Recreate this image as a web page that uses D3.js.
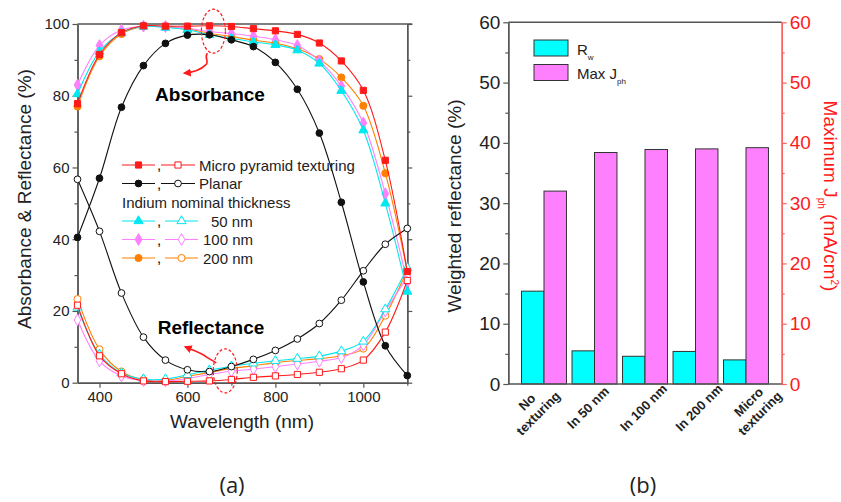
<!DOCTYPE html>
<html>
<head>
<meta charset="utf-8">
<script src="https://cdn.jsdelivr.net/npm/d3@7"></script>
<style>
body { margin: 0; background: #fff; }
text { font-family: Arial, "Liberation Sans", sans-serif; }
</style>
</head>
<body>
<div id="chart"></div>
<script>
// (a) spectra, every 50 nm
var wavelength = [350, 400, 450, 500, 550, 600, 650, 700, 750, 800, 850, 900, 950, 1000, 1050, 1100];
var absMicro  = [77.8, 91.5, 97.6, 99.5, 99.4, 99.4, 99.5, 99.3, 98.7, 98.1, 97.1, 94.7, 89.7, 81.5, 62.0, 31.0];
var refMicro  = [21.6, 7.5, 2.5, 0.5, 0.3, 0.4, 0.5, 0.9, 1.5, 1.9, 2.3, 2.9, 3.9, 6.3, 14.1, 28.5];
var absPlanar = [40.5, 57.0, 76.8, 88.4, 94.6, 96.9, 97.0, 95.6, 93.7, 89.3, 81.8, 69.6, 50.3, 28.1, 10.3, 2.0];
var refPlanar = [56.7, 42.2, 25.0, 12.7, 6.3, 3.6, 3.1, 4.5, 6.5, 9.0, 12.2, 16.5, 23.0, 31.2, 38.6, 43.0];
var abs50  = [80.5, 92.3, 97.5, 99.3, 99.0, 98.4, 97.0, 96.0, 95.0, 94.2, 92.7, 89.0, 81.4, 70.4, 50.0, 25.4];
var ref50  = [21.0, 7.9, 2.7, 1.0, 1.0, 2.2, 3.5, 4.6, 5.4, 6.1, 6.7, 7.4, 8.8, 11.5, 20.5, 32.0];
var abs100 = [83.0, 94.0, 98.3, 99.4, 99.3, 98.8, 97.9, 97.3, 96.6, 95.6, 94.0, 89.7, 82.7, 72.4, 52.7, 28.0];
var ref100 = [17.5, 6.1, 1.9, 0.6, 0.5, 1.2, 2.3, 3.2, 3.8, 4.5, 5.2, 6.0, 7.0, 10.5, 20.0, 29.5];
var abs200 = [77.0, 91.0, 97.2, 99.3, 99.2, 98.7, 97.4, 96.5, 95.5, 94.6, 93.1, 90.2, 85.1, 77.2, 58.4, 31.0];
var ref200 = [23.3, 9.3, 3.1, 0.8, 0.6, 1.8, 2.8, 4.0, 4.7, 5.6, 6.2, 6.7, 7.5, 9.5, 18.7, 31.5];
var seriesNames = ["Micro pyramid texturing", "Planar", "50 nm", "100 nm", "200 nm"];
var xTicksA = [400, 600, 800, 1000];
var xMinorA = [500, 700, 900, 1100];
var yTicksA = [0, 20, 40, 60, 80, 100];
var yMinorA = [10, 30, 50, 70, 90];

// (b) bars
var categories = ["No|texturing", "In 50 nm", "In 100 nm", "In 200 nm", "Micro|texturing"];
var weightedRefl = [15.4, 5.5, 4.6, 5.4, 4.0];
var maxJph = [32.0, 38.4, 38.9, 39.0, 39.2];
var yTicksB = [0, 10, 20, 30, 40, 50, 60];
var yMinorB = [5, 15, 25, 35, 45, 55];

var width = 841, height = 502;
var axisColor = "#555";

var series = [
    {name: seriesNames[0], color: "#ff1a1a", symbol: d3.symbolSquare, size: 38, abs: absMicro, ref: refMicro},
    {name: seriesNames[1], color: "#111111", symbol: d3.symbolCircle, size: 36, abs: absPlanar, ref: refPlanar},
    {name: seriesNames[2], color: "#00e8f0", symbol: d3.symbolTriangle, size: 36, abs: abs50, ref: ref50},
    {name: seriesNames[3], color: "#ff80ff", symbol: d3.symbolDiamond, size: 40, abs: abs100, ref: ref100},
    {name: seriesNames[4], color: "#ff8000", symbol: d3.symbolCircle, size: 40, abs: abs200, ref: ref200}
];

var svg = d3.select("#chart").append("svg")
    .attr("width", width)
    .attr("height", height);

// ---------- panel (a) ----------
var xA = d3.scaleLinear().domain([350, 1100]).range([77.5, 407.3]);
var yA = d3.scaleLinear().domain([0, 100]).range([382.7, 24]);

var gA = svg.append("g");

function styleAxis(sel, color) {
    sel.select(".domain").attr("stroke", color).attr("stroke-width", 1.4);
    sel.selectAll(".tick line").attr("stroke", color).attr("stroke-width", 1.2);
}

var axL = gA.append("g").attr("transform", "translate(" + xA.range()[0] + ",0)")
    .call(d3.axisLeft(yA).tickValues(yTicksA).tickSize(5).tickPadding(3).tickSizeOuter(0));
axL.selectAll("text").style("font-size", "15px").attr("fill", "#222");
styleAxis(axL, axisColor);
var axLm = gA.append("g").attr("transform", "translate(" + xA.range()[0] + ",0)")
    .call(d3.axisLeft(yA).tickValues(yMinorA).tickSize(3).tickFormat("").tickSizeOuter(0));
styleAxis(axLm, axisColor);

var axR = gA.append("g").attr("transform", "translate(" + xA.range()[1] + ",0)")
    .call(d3.axisRight(yA).tickValues(yTicksA).tickSize(5).tickFormat("").tickSizeOuter(0));
styleAxis(axR, axisColor);
var axRm = gA.append("g").attr("transform", "translate(" + xA.range()[1] + ",0)")
    .call(d3.axisRight(yA).tickValues(yMinorA).tickSize(3).tickFormat("").tickSizeOuter(0));
styleAxis(axRm, axisColor);

var axB = gA.append("g").attr("transform", "translate(0," + yA.range()[0] + ")")
    .call(d3.axisBottom(xA).tickValues(xTicksA).tickFormat(d3.format("d")).tickSize(5).tickPadding(4).tickSizeOuter(0));
axB.selectAll("text").style("font-size", "15px").attr("fill", "#222");
styleAxis(axB, axisColor);
var axBm = gA.append("g").attr("transform", "translate(0," + yA.range()[0] + ")")
    .call(d3.axisBottom(xA).tickValues(xMinorA).tickSize(3).tickFormat("").tickSizeOuter(0));
styleAxis(axBm, axisColor);

gA.append("line")
    .attr("x1", xA.range()[0]).attr("x2", xA.range()[1] + 5)
    .attr("y1", yA.range()[1]).attr("y2", yA.range()[1])
    .attr("stroke", axisColor).attr("stroke-width", 1.4);

var line = d3.line()
    .x(function (d) { return xA(d[0]); })
    .y(function (d) { return yA(d[1]); })
    .curve(d3.curveCatmullRom.alpha(0.5));

var plotA = gA.append("g");
series.slice().reverse().forEach(function (s) {
    ["ref", "abs"].forEach(function (kind) {
        var pts = wavelength.map(function (w, i) { return [w, s[kind][i]]; });
        plotA.append("path")
            .attr("d", line(pts))
            .attr("fill", "none")
            .attr("stroke", s.color)
            .attr("stroke-width", 1.1);
        plotA.selectAll(null)
            .data(pts).enter()
            .append("path")
            .attr("transform", function (d) { return "translate(" + xA(d[0]) + "," + yA(d[1]) + ")"; })
            .attr("d", d3.symbol().type(s.symbol).size(s.size))
            .attr("fill", kind == "abs" ? s.color : "#fff")
            .attr("stroke", s.color)
            .attr("stroke-width", 1);
    });
});

// annotations
gA.append("text").attr("x", 210).attr("y", 101)
    .attr("text-anchor", "middle")
    .style("font-size", "19px").style("font-weight", "bold")
    .text("Absorbance");
gA.append("text").attr("x", 211).attr("y", 334)
    .attr("text-anchor", "middle")
    .style("font-size", "19px").style("font-weight", "bold")
    .text("Reflectance");

svg.append("defs").append("marker")
    .attr("id", "arrowRed")
    .attr("viewBox", "0 0 10 10")
    .attr("refX", 8).attr("refY", 5)
    .attr("markerWidth", 5).attr("markerHeight", 5)
    .attr("orient", "auto")
    .append("path").attr("d", "M0,0L10,5L0,10z").attr("fill", "#ff1a1a");

function ellipseNote(w, v, arrowPath) {
    var cx = xA(w), cy = yA(v);
    gA.append("ellipse")
        .attr("cx", cx).attr("cy", cy)
        .attr("rx", 12).attr("ry", 22)
        .attr("fill", "none")
        .attr("stroke", "#ff1a1a")
        .attr("stroke-width", 1.2)
        .attr("stroke-dasharray", "3,2");
    gA.append("path")
        .attr("transform", "translate(" + cx + "," + cy + ")")
        .attr("d", arrowPath)
        .attr("fill", "none")
        .attr("stroke", "#ff1a1a")
        .attr("stroke-width", 1.6)
        .attr("marker-end", "url(#arrowRed)");
}
ellipseNote(659, 98, "M-6,22 C-10,27 -3,30 -8,34 C-12,38 -18,41 -29,42");
ellipseNote(686, 3.3, "M-9,-8 C-12,-10 -16,-12 -19,-14 C-22,-17 -30,-20 -40,-24");

// legend (a)
var legA = gA.append("g").attr("transform", "translate(122,165)");
var legRows = [
    {s: series[0], y: 0, x2a: 39, x2b: 73, tx: 77, label: "Micro pyramid texturing"},
    {s: series[1], y: 18.5, x2a: 39, x2b: 73, tx: 77, label: "Planar"},
    {s: series[2], y: 56, x2a: 43, x2b: 76, tx: 89, label: "50 nm"},
    {s: series[3], y: 74.5, x2a: 43, x2b: 76, tx: 81, label: "100 nm"},
    {s: series[4], y: 93, x2a: 43, x2b: 76, tx: 81, label: "200 nm"}
];
legRows.forEach(function (r) {
    var g = legA.append("g").attr("transform", "translate(0," + r.y + ")");
    g.append("line").attr("x1", 0).attr("x2", 33).attr("y1", 0).attr("y2", 0)
        .attr("stroke", r.s.color).attr("stroke-width", 1.1);
    g.append("path").attr("transform", "translate(16.5,0)")
        .attr("d", d3.symbol().type(r.s.symbol).size(r.s.size))
        .attr("fill", r.s.color).attr("stroke", r.s.color);
    g.append("text").attr("x", 35).attr("y", 5).style("font-size", "15px").text(",");
    g.append("line").attr("x1", r.x2a).attr("x2", r.x2b).attr("y1", 0).attr("y2", 0)
        .attr("stroke", r.s.color).attr("stroke-width", 1.1);
    g.append("path").attr("transform", "translate(" + (r.x2a + r.x2b) / 2 + ",0)")
        .attr("d", d3.symbol().type(r.s.symbol).size(r.s.size))
        .attr("fill", "#fff").attr("stroke", r.s.color);
    g.append("text").attr("x", r.tx).attr("y", 5.5)
        .style("font-size", "15px").attr("fill", "#222").text(r.label);
});
legA.append("text").attr("x", 0).attr("y", 42.5)
    .style("font-size", "15px").attr("fill", "#222")
    .text("Indium nominal thickness");

gA.append("text")
    .attr("transform", "translate(31,199)rotate(-90)")
    .attr("text-anchor", "middle")
    .style("font-size", "19px").attr("fill", "#222")
    .text("Absorbance & Reflectance (%)");
gA.append("text")
    .attr("x", 242).attr("y", 428)
    .attr("text-anchor", "middle")
    .style("font-size", "19px").attr("fill", "#222")
    .text("Wavelength (nm)");

// ---------- panel (b) ----------
var xB = d3.scalePoint().domain(categories).range([508.3, 781.7]).padding(0.707);
var xLab = d3.scalePoint().domain(categories).range([533, 754.7]);
var yB = d3.scaleLinear().domain([0, 60]).range([384, 22.3]);
var barW = xB.step() * 0.445;

var gB = svg.append("g");

gB.selectAll("rect.rw")
    .data(weightedRefl).enter()
    .append("rect")
    .attr("class", "rw")
    .attr("x", function (d, i) { return xB(categories[i]) - barW; })
    .attr("y", function (d) { return yB(d); })
    .attr("width", barW)
    .attr("height", function (d) { return yB(0) - yB(d); })
    .attr("fill", "#00ffff")
    .attr("stroke", "#333")
    .attr("stroke-width", 1);

gB.selectAll("rect.jph")
    .data(maxJph).enter()
    .append("rect")
    .attr("class", "jph")
    .attr("x", function (d, i) { return xB(categories[i]); })
    .attr("y", function (d) { return yB(d); })
    .attr("width", barW)
    .attr("height", function (d) { return yB(0) - yB(d); })
    .attr("fill", "#ff80ff")
    .attr("stroke", "#333")
    .attr("stroke-width", 1);

var bL = gB.append("g").attr("transform", "translate(" + xB.range()[0] + ",0)")
    .call(d3.axisLeft(yB).tickValues(yTicksB).tickSize(5).tickPadding(3).tickSizeOuter(0));
bL.selectAll("text").style("font-size", "19px").attr("fill", "#222");
styleAxis(bL, axisColor);
var bLm = gB.append("g").attr("transform", "translate(" + xB.range()[0] + ",0)")
    .call(d3.axisLeft(yB).tickValues(yMinorB).tickSize(3).tickFormat("").tickSizeOuter(0));
styleAxis(bLm, axisColor);

var bR = gB.append("g").attr("transform", "translate(" + xB.range()[1] + ",0)")
    .call(d3.axisRight(yB).tickValues(yTicksB).tickSize(5).tickPadding(3).tickSizeOuter(0));
bR.selectAll("text").style("font-size", "19px").attr("fill", "#ff1a1a");
styleAxis(bR, "#ff6060");
var bRm = gB.append("g").attr("transform", "translate(" + xB.range()[1] + ",0)")
    .call(d3.axisRight(yB).tickValues(yMinorB).tickSize(3).tickFormat("").tickSizeOuter(0));
styleAxis(bRm, "#ff6060");

gB.append("line")
    .attr("x1", xB.range()[0]).attr("x2", xB.range()[1])
    .attr("y1", yB.range()[0]).attr("y2", yB.range()[0])
    .attr("stroke", axisColor).attr("stroke-width", 1.4);
gB.append("line")
    .attr("x1", xB.range()[0]).attr("x2", xB.range()[1])
    .attr("y1", yB.range()[1]).attr("y2", yB.range()[1])
    .attr("stroke", axisColor).attr("stroke-width", 1.4);

// category labels, rotated
categories.forEach(function (c) {
    var lines = c.split("|");
    var g = gB.append("g")
        .attr("transform", "translate(" + xLab(c) + ",408)rotate(-45)");
    lines.forEach(function (t, j) {
        g.append("text")
            .attr("x", 0)
            .attr("y", lines.length == 1 ? 4 : (j == 0 ? -4 : 12))
            .attr("text-anchor", "middle")
            .style("font-size", "13px").style("font-weight", "bold")
            .attr("fill", "#222")
            .text(t);
    });
});

// legend (b)
var legB = gB.append("g").attr("transform", "translate(534,40)");
legB.append("rect").attr("width", 34).attr("height", 16)
    .attr("fill", "#00ffff").attr("stroke", "#333");
legB.append("rect").attr("y", 24.5).attr("width", 34).attr("height", 16)
    .attr("fill", "#ff80ff").attr("stroke", "#333");
var t1 = legB.append("text").attr("x", 43).attr("y", 15)
    .style("font-size", "15px").attr("fill", "#222");
t1.append("tspan").text("R");
t1.append("tspan").attr("dy", 5).style("font-size", "8px").text("w");
var t2 = legB.append("text").attr("x", 43).attr("y", 38.5)
    .style("font-size", "15px").attr("fill", "#222");
t2.append("tspan").text("Max J");
t2.append("tspan").attr("dy", 5).style("font-size", "8px").text("ph");

gB.append("text")
    .attr("transform", "translate(461,206)rotate(-90)")
    .attr("text-anchor", "middle")
    .style("font-size", "19px").attr("fill", "#222")
    .text("Weighted reflectance (%)");

var tR = gB.append("text")
    .attr("transform", "translate(824,196)rotate(90)")
    .attr("text-anchor", "middle")
    .style("font-size", "19px").attr("fill", "#ff1a1a");
tR.append("tspan").text("Maximum J");
tR.append("tspan").attr("dy", 6).style("font-size", "10px").text("ph");
tR.append("tspan").attr("dy", -6).text(" (mA/cm");
tR.append("tspan").attr("dy", -7).style("font-size", "10px").text("2");
tR.append("tspan").attr("dy", 7).text(")");

// panel captions
svg.append("text").attr("x", 232).attr("y", 493)
    .attr("text-anchor", "middle")
    .style("font-family", "'Open Sans', 'Noto Sans', sans-serif")
    .style("font-size", "22px").attr("fill", "#222")
    .text("(a)");
svg.append("text").attr("x", 643).attr("y", 493)
    .attr("text-anchor", "middle")
    .style("font-family", "'Open Sans', 'Noto Sans', sans-serif")
    .style("font-size", "22px").attr("fill", "#222")
    .text("(b)");
</script>
</body>
</html>
